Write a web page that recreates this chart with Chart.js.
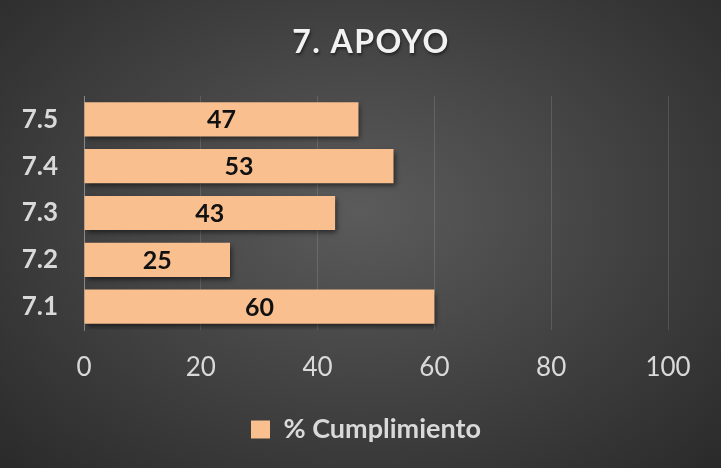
<!DOCTYPE html>
<html>
<head>
<meta charset="utf-8">
<script src="https://cdn.jsdelivr.net/npm/chart.js@4.4.1/dist/chart.umd.min.js"></script>
<style>
  html, body { margin: 0; padding: 0; background: #333; }
  #wrap {
    width: 721px; height: 468px;
    background: radial-gradient(ellipse at 50% 45%, #5b5b5b 0%, #454545 45%, #2a2a2a 100%);
  }
</style>
</head>
<body>
<div id="wrap"><canvas id="chart" width="721" height="468"></canvas></div>
<script>
// data
const categories = ['7.5', '7.4', '7.3', '7.2', '7.1'];
const cumplimiento = [47, 53, 43, 25, 60];
const seriesName = '% Cumplimiento';
const chartTitle = '7. APOYO';

const barColor = '#F9BF8F';
const textLight = '#d9d9d9';

// title drawn by hand so it can get the letter spacing of the original
const titlePlugin = {
  id: 'titlePlugin',
  afterDraw(chart) {
    const ctx = chart.ctx;
    ctx.save();
    ctx.font = 'bold 32px Lato';
    ctx.letterSpacing = '1.5px';
    ctx.fillStyle = '#f2f2f2';
    ctx.textAlign = 'center';
    ctx.textBaseline = 'middle';
    ctx.shadowColor = 'rgba(0,0,0,0.5)';
    ctx.shadowBlur = 3;
    ctx.shadowOffsetX = 1;
    ctx.shadowOffsetY = 2;
    ctx.fillText(chartTitle, 371, 43);
    ctx.restore();
  }
};

// legend sits a bit right of centre in the original
const legendShift = {
  id: 'legendShift',
  afterLayout(chart) {
    chart.legend.left += 32;
    chart.legend.right += 32;
  }
};

// labels in the middle of each bar
const barLabels = {
  id: 'barLabels',
  afterDatasetsDraw(chart) {
    const ctx = chart.ctx;
    const meta = chart.getDatasetMeta(0);
    ctx.save();
    ctx.font = 'bold 25px Lato';
    ctx.fillStyle = '#111';
    ctx.textAlign = 'center';
    ctx.textBaseline = 'middle';
    meta.data.forEach((bar, i) => {
      const x = (bar.base + bar.x) / 2;
      ctx.fillText(cumplimiento[i], x, bar.y + 1);
    });
    ctx.restore();
  }
};

// soft shadow under the bars
const barShadow = {
  id: 'barShadow',
  beforeDatasetsDraw(chart) {
    const ctx = chart.ctx;
    ctx.save();
    ctx.shadowColor = 'rgba(0,0,0,0.55)';
    ctx.shadowBlur = 5;
    ctx.shadowOffsetX = 2;
    ctx.shadowOffsetY = 3;
  },
  afterDatasetsDraw(chart) {
    chart.ctx.restore();
  }
};

new Chart(document.getElementById('chart'), {
  type: 'bar',
  data: {
    labels: categories,
    datasets: [{
      label: seriesName,
      data: cumplimiento,
      backgroundColor: barColor,
      borderWidth: 0,
      categoryPercentage: 1,
      barPercentage: 0.73
    }]
  },
  options: {
    indexAxis: 'y',
    responsive: false,
    animation: false,
    layout: { padding: { top: 96, right: 53, bottom: 15, left: 0 } },
    scales: {
      x: {
        min: 0, max: 100,
        afterFit(scale) { scale.height = 61; },
        ticks: { stepSize: 20, color: textLight, font: { family: 'Lato', size: 26 }, padding: 22 },
        grid: { color: 'rgba(255,255,255,0.13)', drawTicks: false },
        border: { display: false }
      },
      y: {
        afterFit(scale) { scale.width = 84; },
        ticks: { color: textLight, font: { family: 'Lato', size: 26, weight: 'bold' }, padding: 26 },
        grid: { display: false, drawTicks: false },
        border: { display: true, color: 'rgba(255,255,255,0.3)', width: 1 }
      }
    },
    plugins: {
      title: { display: false },
      legend: {
        position: 'bottom',
        labels: {
          color: textLight,
          font: { family: 'Lato', size: 27, weight: 'bold' },
          boxWidth: 19, boxHeight: 18,
          padding: 25
        }
      },
      tooltip: { enabled: false }
    }
  },
  plugins: [barShadow, barLabels, titlePlugin, legendShift]
});
</script>
</body>
</html>
